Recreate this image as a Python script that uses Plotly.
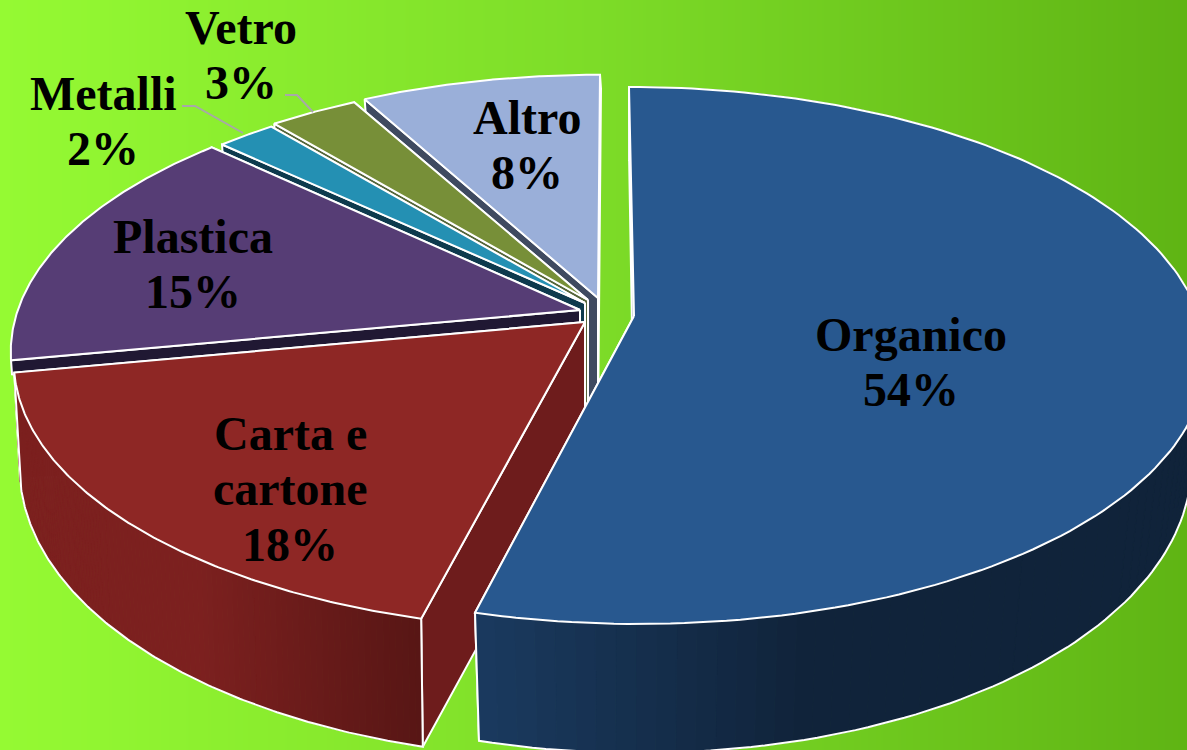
import numpy as np
import plotly.graph_objects as go

categories = ["Organico", "Carta e<br>cartone", "Plastica", "Metalli", "Vetro", "Altro"]
values = [54, 18, 15, 2, 3, 8]
top_colors = ["#28588f", "#8e2725", "#563d75", "#2490b3", "#778f38", "#9aafd9"]
cut_colors = ["#16324f", "#6e1c1c", "#201833", "#0e3a4d", "#55663a", "#3f4a60"]
wall_left = ["#1a3a5f", "#7c201f", "#201833", "#0e3a4d", "#55663a", "#3f4a60"]
wall_right = ["#10233a", "#581615", "#201833", "#0e3a4d", "#55663a", "#3f4a60"]

W, H = 1187, 750
R, RS, K = 565.0, 262.7, 0.147
hubs = [(634, 316), (585, 322), (580, 310), (585, 303), (588, 300), (598, 298)]
scales = [1.0, 1.0, 0.995, 0.97, 0.97, 0.975]
skews = [5, 0, -6, 0, 0, -2]
squeezes = [0.975, 0.99, 0.975, 0.975, 0.975, 0.975]
HUB_DEPTH = 128
BACK_CORNER_DEPTH = 14

label_xy = [(911, 334), (290, 433), (193, 236), (103, 93), (241, 27), (527, 117)]
LINE_STEP = 55.5
FONT_PX = 48

fig = go.Figure()
fig.add_trace(go.Heatmap(
    z=[[0, 1]], x=[0, W], y=[0, H * 2], zsmooth="best", showscale=False, hoverinfo="skip",
    colorscale=[[0, "#95fa33"], [0.5, "#7ddc28"], [1, "#5fb414"]],
))


def top_pt(i, deg):
    t = np.radians(deg)
    X, Y = np.sin(t), np.cos(t)
    w = 1 + K * Y
    return R * scales[i] * X / w - skews[i] * Y, -RS * scales[i] * Y / w, Y


def top_xy(i, deg):
    sx, sy, _ = top_pt(i, deg)
    return hubs[i][0] + sx, hubs[i][1] + sy


def bot_xy(i, deg):
    sx, sy, Y = top_pt(i, deg)
    return hubs[i][0] + sx * squeezes[i], hubs[i][1] + sy + (101 - 28 * Y)


def poly(xs, ys, fill, line="white", width=2):
    fig.add_trace(go.Scatter(
        x=list(xs), y=list(ys), mode="lines", fill="toself", fillcolor=fill,
        line=dict(color=line, width=width), hoverinfo="skip", showlegend=False,
    ))


def mix(c1, c2, f):
    a = [int(c1[j:j + 2], 16) for j in (1, 3, 5)]
    b = [int(c2[j:j + 2], 16) for j in (1, 3, 5)]
    return "rgb(%d,%d,%d)" % tuple(round(p + (q - p) * f) for p, q in zip(a, b))


edges = np.concatenate([[0], np.cumsum(values)]) * 3.6
order = [5, 4, 3, 2, 1, 0]
for i in order:
    a0, a1 = edges[i], edges[i + 1]
    hx, hy = hubs[i]
    mid = np.radians((a0 + a1) / 2)
    front = np.cos(mid) < 0
    arc = np.linspace(a0, a1, 160)
    # cut faces: the later edge first, so the nearer face stays on top
    for ang in (a1, a0):
        tx, ty = top_xy(i, ang)
        if front:
            bx, by = bot_xy(i, ang)
        else:
            bx, by = tx + 1, ty + BACK_CORNER_DEPTH
        poly([hx, tx, bx, hx, hx], [hy, ty, by, hy + HUB_DEPTH, hy], cut_colors[i])
    # outer wall, shaded strip by strip
    if front:
        n = 110
        a_edges = np.linspace(a0, a1, n + 1)
        for j in range(n):
            sub = np.linspace(a_edges[j], a_edges[j + 1], 3)
            t = np.array([top_xy(i, s) for s in sub])
            b = np.array([bot_xy(i, s) for s in sub])
            xm = t[:, 0].mean()
            if i == 0:
                f = float(np.clip((xm - 476) / 330, 0, 1))
            else:
                f = 1 - float(np.clip((418 - xm) / 220, 0, 1))
            col = mix(wall_left[i], wall_right[i], f)
            poly(np.r_[t[:, 0], b[::-1, 0], t[0, 0]], np.r_[t[:, 1], b[::-1, 1], t[0, 1]], col, line=col, width=1)
        t = np.array([top_xy(i, s) for s in arc])
        b = np.array([bot_xy(i, s) for s in arc])
        fig.add_trace(go.Scatter(
            x=np.r_[t[-1, 0], b[::-1, 0], t[0, 0]], y=np.r_[t[-1, 1], b[::-1, 1], t[0, 1]],
            mode="lines", line=dict(color="white", width=2), hoverinfo="skip", showlegend=False,
        ))
    # top face
    t = np.array([top_xy(i, s) for s in arc])
    poly(np.r_[hx, t[:, 0], hx], np.r_[hy, t[:, 1], hy], top_colors[i])

annotations = []
for i, name in enumerate(categories):
    lines = name.split("<br>") + ["%d%%" % values[i]]
    x, y = label_xy[i]
    for n, txt in enumerate(lines):
        annotations.append(dict(
            x=x, y=y + n * LINE_STEP, text="<b>%s</b>" % txt, showarrow=False, xref="x", yref="y",
            xanchor="center", yanchor="middle",
            font=dict(family="Liberation Serif", size=FONT_PX, color="black"),
        ))

leader = dict(color="#a8a8a8", width=2)
shapes = [
    dict(type="path", path="M 182 106 L 195 106 L 243 133", line=leader, xref="x", yref="y"),
    dict(type="path", path="M 285 95 L 297 95 L 313 112", line=leader, xref="x", yref="y"),
]

fig.update_layout(
    width=W, height=H, margin=dict(l=0, r=0, t=0, b=0), showlegend=False,
    paper_bgcolor="#8fef2c", plot_bgcolor="rgba(0,0,0,0)",
    xaxis=dict(range=[0, W], visible=False, fixedrange=True),
    yaxis=dict(range=[H, 0], visible=False, fixedrange=True),
    annotations=annotations, shapes=shapes,
)
fig.write_html("out.html", config={"displayModeBar": False},
               post_script="document.body.style.margin='0';document.body.style.overflow='hidden';")
